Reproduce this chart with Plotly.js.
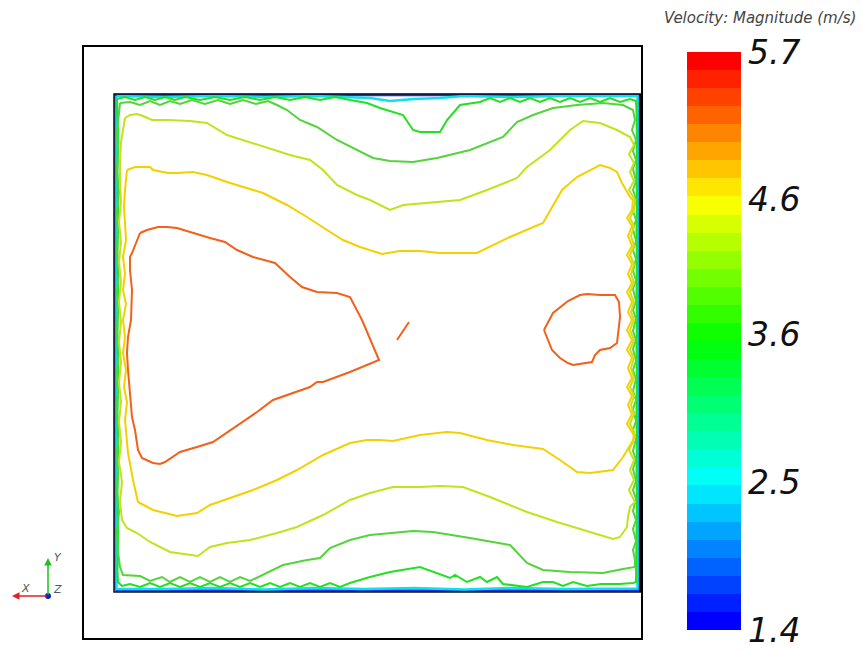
<!DOCTYPE html>
<html><head><meta charset="utf-8">
<script src="https://cdn.plot.ly/plotly-3.0.1.min.js"></script>
<style>html,body{margin:0;padding:0;background:#fff}#chart{width:862px;height:651px}</style>
</head><body><div id="chart"></div>
<script>
// Domain coordinates (mm from bottom-left corner of the cavity)
const isoOrangeLeft = [[26,359],[33,362],[44,365],[53,365],[63,364],[79,359],[96,354],[111,350],[123,342],[139,335],[161,329],[176,315],[188,305],[203,300],[223,299],[236,295],[248,272],[265,232],[236,220],[209,210],[203,210],[196,205],[169,195],[159,192],[143,180],[116,162],[99,150],[83,145],[66,140],[51,130],[46,128],[39,129],[28,134],[24,142],[21,162],[18,175],[16,195],[14,222],[13,239],[14,255],[17,272],[18,302],[16,322],[16,335],[18,339],[26,359]];
const isoOrangeDash = [[283,252],[295,270]];
const isoOrangeRight = [[430,262],[439,279],[454,291],[466,297],[473,298],[486,297],[501,297],[505,290],[506,275],[504,259],[503,249],[496,244],[486,242],[481,237],[478,230],[459,227],[454,229],[446,234],[438,242],[430,262]];
const isoYellow = [[13,422],[21,425],[36,425],[39,422],[54,419],[63,419],[79,420],[93,417],[113,410],[129,405],[149,399],[173,387],[193,375],[213,362],[229,352],[246,345],[256,342],[268,338],[286,341],[306,341],[326,339],[363,339],[396,355],[429,369],[448,402],[463,415],[486,427],[496,424],[503,420],[508,409],[516,395],[519,392],
 [518,382],[513,374],[518,366],[514,356],[518,346],[513,337],[518,328],[514,318],[518,309],[513,300],[518,290],[514,280],[518,272],[513,262],[518,252],[513,242],[518,234],[514,224],[518,214],[513,205],[518,196],[514,187],[518,178],[513,168],[518,160],[521,155],
 [509,135],[499,122],[476,119],[463,120],[446,132],[429,143],[399,147],[373,152],[346,159],[333,160],[306,157],[279,151],[266,152],[253,152],[236,149],[209,137],[183,122],[163,112],[139,102],[116,94],[96,87],[83,79],[63,76],[39,82],[24,90],[19,112],[14,139],[11,172],[13,190],[10,205],[12,222],[9,239],[11,255],[9,272],[12,288],[9,302],[11,318],[9,335],[12,352],[11,369],[10,385],[11,402],[13,422]];
const isoYellowGreen = [[11,474],[16,477],[23,478],[29,476],[38,472],[54,472],[76,471],[93,469],[113,457],[129,452],[156,444],[176,437],[196,432],[209,422],[223,407],[243,397],[256,392],[276,382],[289,387],[309,389],[346,392],[373,402],[403,414],[413,425],[436,442],[456,462],[469,471],[486,469],[503,462],[516,455],
 [520,447],[515,438],[520,429],[516,420],[520,411],[515,402],[521,392],[520,382],[516,374],[520,366],[517,356],[520,346],[516,337],[520,328],[517,318],[520,309],[516,300],[520,290],[517,280],[520,272],[516,262],[520,252],[516,242],[520,234],[517,224],[520,214],[516,205],[520,196],[517,187],[520,178],[516,168],[520,160],[519,150],[515,142],[520,132],[516,122],[520,112],[515,102],[519,95],[521,90],
 [516,85],[514,75],[513,65],[506,55],[499,53],[469,62],[443,70],[413,80],[376,95],[349,105],[326,106],[306,105],[279,105],[256,99],[236,92],[209,77],[183,65],[163,59],[136,52],[113,49],[96,45],[84,36],[56,40],[36,50],[23,59],[13,64],[8,72],[6,90],[8,110],[5,130],[7,150],[5,170],[7,190],[5,210],[7,230],[5,250],[7,270],[5,290],[7,310],[5,330],[7,350],[5,370],[7,390],[6,410],[6,430],[7,450],[11,474]];
const isoGreen = [[6,489],[16,490],[26,487],[36,491],[46,487],[56,491],[66,488],[78,492],[91,488],[104,492],[116,488],[129,492],[142,488],[154,491],[163,487],[173,482],[186,472],[203,465],[223,452],[243,442],[259,434],[276,431],[299,430],[323,434],[356,442],[389,455],[403,470],[419,477],[439,484],[463,487],[489,489],[509,487],[519,482],
 [521,472],[518,462],[522,452],[519,441],[522,432],[519,423],[522,411],[519,402],[522,393],[519,381],[522,372],[519,363],[522,351],[519,342],[522,333],[519,321],[522,312],[519,303],[522,291],[519,282],[522,273],[519,261],[522,252],[519,243],[522,231],[519,222],[522,213],[519,201],[522,192],[519,183],[522,171],[519,162],[522,153],[519,141],[522,132],[519,123],[522,111],[519,102],[522,93],[519,81],[522,72],[519,63],[522,51],[519,42],[521,32],[521,25],
 [509,23],[489,19],[456,20],[429,22],[413,29],[396,47],[356,54],[319,60],[299,61],[276,59],[256,57],[236,52],[216,44],[206,34],[193,32],[169,27],[153,19],[136,11],[126,15],[116,10],[106,15],[96,10],[86,15],[76,10],[66,15],[56,10],[48,15],[36,11],[26,16],[16,17],[9,17],[6,25],
 [4,40],[3,60],[5,80],[3,100],[4,120],[3,140],[5,160],[3,180],[4,200],[3,220],[5,240],[3,260],[4,280],[3,300],[5,320],[3,340],[4,360],[3,380],[5,400],[3,420],[4,440],[3,460],[5,478],[6,489]];
const isoBrightGreen = [[3,493],[11,495],[21,492],[31,495],[41,492],[51,495],[61,492],[71,495],[86,492],[101,495],[116,492],[131,495],[146,492],[161,495],[176,492],[191,495],[206,492],[221,495],[236,492],[253,489],[266,484],[289,477],[299,462],[306,460],[326,460],[333,472],[346,487],[366,490],[376,494],[386,490],[396,494],[406,490],[416,494],[426,490],[436,494],[446,490],[456,494],[466,490],[476,494],[486,490],[496,494],[506,490],[516,493],[522,491],
 [522.5,480],[523,450],[522.5,420],[523,390],[522.5,360],[523,330],[522.5,300],[523,270],[522.5,240],[523,210],[522.5,180],[523,150],[522.5,120],[523,90],[522.5,60],[522.5,20],[522,10],
 [519,9],[505,8],[487,8],[473,6],[459,10],[449,6],[439,10],[429,10],[413,5],[389,8],[383,15],[373,10],[366,15],[353,10],[341,17],[336,14],[306,25],[276,20],[256,15],[236,9],[226,5],[216,9],[206,5],[196,9],[186,5],[176,9],[166,5],[156,9],[146,5],[136,9],[126,5],[116,9],[106,5],[96,9],[86,5],[76,9],[66,5],[56,9],[46,5],[36,9],[26,5],[16,8],[8,6],[4,10],
 [3.5,20],[4,60],[3.5,100],[4,140],[3.5,180],[4,220],[3.5,260],[4,300],[3.5,340],[4,380],[3.5,420],[4,460],[3,493]];
const isoCyan = [[2.5,496],[50,495],[100,496],[150,495],[200,496],[256,494],[276,491],[300,493],[326,494],[350,496],[400,495],[450,496],[523.5,496],[523.5,300],[523.5,100],[523.5,3.5],[450,3],[400,4],[350,2.5],[300,4],[250,3],[200,4],[150,2.5],[100,4],[50,3],[2.5,3],[2.5,250],[2.5,496]];
const isoBlue = [[1.5,1.5],[1.5,497],[524.5,497],[524.5,1.5],[1.5,1.5]];

const contours = [isoBlue, isoCyan, isoBrightGreen, isoGreen, isoYellowGreen, isoYellow, isoOrangeLeft, isoOrangeDash, isoOrangeRight];
const contourColors = ['#1030f0', '#10e0e8', '#22e022', '#52d43a', '#c3e21c', '#f5d000', '#f2601a', '#f2601a', '#f2601a'];

const barMin = 1.4, barMax = 5.7;
const barTicks = [5.7, 4.6, 3.6, 2.5, 1.4];
const barBands = 32;
const jetAnchors = [[0,0,255],[0,255,255],[0,255,0],[255,255,0],[255,0,0]];

function jet(t){
  const s = t*4, i = Math.min(3, Math.floor(s)), f = s - i;
  const a = jetAnchors[i], b = jetAnchors[i+1];
  return 'rgb(' + a.map((v,k)=>Math.round(v+(b[k]-v)*f)).join(',') + ')';
}
const colorscale = [];
for (let i=0;i<barBands;i++){
  const c = jet(i/(barBands-1));
  colorscale.push([i/barBands, c]);
  colorscale.push([(i+1)/barBands, c]);
}

const traces = contours.map((pts, i) => ({
  type:'scatter', mode:'lines',
  x: pts.map(p=>p[0]), y: pts.map(p=>p[1]),
  line:{color: contourColors[i], width: i < 2 ? 2.5 : 2},
  hoverinfo:'skip', showlegend:false
}));
// colour bar carrier
traces.push({
  type:'scatter', mode:'markers', x:[-1000,-1000], y:[-1000,-1000],
  marker:{color:[barMin,barMax], cmin:barMin, cmax:barMax, colorscale: colorscale, showscale:true, size:1,
    colorbar:{x:687/862, xanchor:'left', xpad:0, y:1-52/651, yanchor:'top', ypad:0,
      len:578, lenmode:'pixels', thickness:54, thicknessmode:'pixels', outlinewidth:0,
      tickvals: barTicks, ticktext: barTicks.map(v=>v.toFixed(1)), ticks:'',
      tickfont:{family:'DejaVu Sans', size:33, style:'italic', color:'#111'}}},
  hoverinfo:'skip', showlegend:false
});
// triad origin
traces.push({type:'scatter', mode:'markers', x:[-66], y:[-4], marker:{color:'#1020c0', size:6}, hoverinfo:'skip', showlegend:false});

const layout = {
  width:862, height:651, paper_bgcolor:'#fff', plot_bgcolor:'#fff',
  margin:{l:0,r:0,t:0,b:0, autoexpand:false},
  xaxis:{range:[-114,748], visible:false, fixedrange:true},
  yaxis:{range:[-59,592], visible:false, fixedrange:true},
  shapes:[
    {type:'rect', xref:'x', yref:'y', x0:-31, x1:528, y0:-47, y1:546, line:{color:'#000', width:2}},
    {type:'rect', xref:'x', yref:'y', x0:0, x1:527, y0:0, y1:498, line:{color:'#111', width:1.5}},
    {type:'line', xref:'x', yref:'y', x0:527, x1:527, y0:0, y1:498, line:{color:'#000', width:3.5}}
  ],
  annotations:[
    {xref:'paper', yref:'paper', x:858/862, xanchor:'right', y:1-18/651, yanchor:'middle', text:'Velocity: Magnitude (m/s)', showarrow:false,
      font:{family:'DejaVu Sans', size:15, style:'italic', color:'#444'}},
    {xref:'x', yref:'y', axref:'x', ayref:'y', x:-102, y:-4, ax:-66, ay:-4, text:'', showarrow:true,
      arrowcolor:'#e02020', arrowwidth:1.5, arrowhead:2, arrowsize:1},
    {xref:'x', yref:'y', axref:'x', ayref:'y', x:-66, y:34, ax:-66, ay:-4, text:'', showarrow:true,
      arrowcolor:'#20c020', arrowwidth:1.5, arrowhead:2, arrowsize:1},
    {xref:'x', yref:'y', x:-89, y:4, text:'X', showarrow:false, font:{family:'DejaVu Sans', size:11, style:'italic', color:'#555'}},
    {xref:'x', yref:'y', x:-56, y:35, text:'Y', showarrow:false, font:{family:'DejaVu Sans', size:11, style:'italic', color:'#555'}},
    {xref:'x', yref:'y', x:-57, y:3, text:'Z', showarrow:false, font:{family:'DejaVu Sans', size:11, style:'italic', color:'#555'}}
  ]
};
Plotly.newPlot('chart', traces, layout, {displayModeBar:false, staticPlot:true});
</script></body></html>
